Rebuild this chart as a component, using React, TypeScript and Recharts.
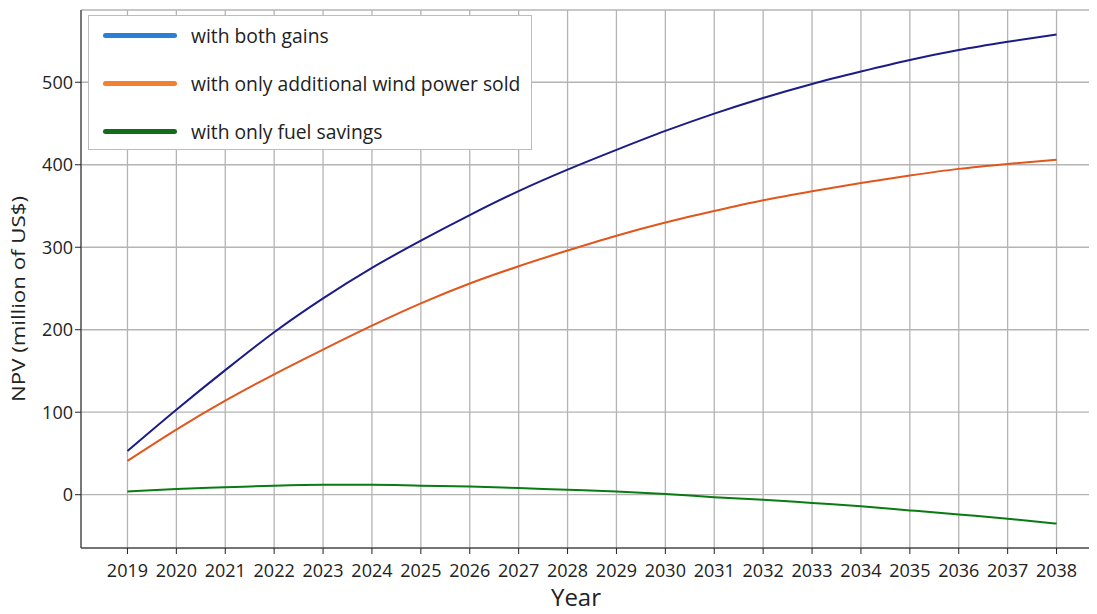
import React from "react";
import {
  LineChart,
  Line,
  XAxis,
  YAxis,
  CartesianGrid,
} from "recharts";

const years = [
  2019, 2020, 2021, 2022, 2023, 2024, 2025, 2026, 2027, 2028,
  2029, 2030, 2031, 2032, 2033, 2034, 2035, 2036, 2037, 2038,
];
const bothGains = [
  53, 103, 151, 197, 238, 275, 308, 339, 368, 394,
  418, 441, 462, 481, 498, 513, 527, 539, 549, 558,
];
const windOnly = [
  41, 79, 114, 146, 176, 205, 232, 256, 277, 296,
  314, 330, 344, 357, 368, 378, 387, 395, 401, 406,
];
const fuelOnly = [
  4, 7, 9, 11, 12, 12, 11, 10, 8, 6,
  4, 1, -3, -6, -10, -14, -19, -24, -29, -35,
];
const yTicks = [0, 100, 200, 300, 400, 500];

const legendItems = [
  { label: "with both gains", color: "#2b7fd6" },
  { label: "with only additional wind power sold", color: "#f2802e" },
  { label: "with only fuel savings", color: "#136b1c" },
];

const data = years.map((year, i) => ({
  year,
  both: bothGains[i],
  wind: windOnly[i],
  fuel: fuelOnly[i],
}));

const font = "'Open Sans', sans-serif";

function YLabel() {
  const x = 18;
  const y = 299;
  return (
    <text
      x={x}
      y={y}
      transform={`rotate(-90 ${x} ${y})`}
      textAnchor="middle"
      dominantBaseline="central"
      fill="#222"
      fontSize={19}
      textLength={206}
      lengthAdjust="spacingAndGlyphs"
      fontFamily={font}
    >
      NPV (million of US$)
    </text>
  );
}

function XLabel() {
  return (
    <text
      x={576}
      y={606}
      textAnchor="middle"
      fill="#222"
      fontSize={24}
      fontFamily={font}
    >
      Year
    </text>
  );
}

export default function App() {
  return (
    <div
      style={{
        margin: -8,
        width: 1097,
        height: 614,
        overflow: "hidden",
        position: "relative",
        background: "#fff",
      }}
    >
      <LineChart
        width={1120}
        height={614}
        data={data}
        margin={{ top: 10, right: 17, bottom: 0, left: 0 }}
      >
        <CartesianGrid stroke="#b4b4b4" strokeWidth={1.3} />
        <XAxis
          dataKey="year"
          type="number"
          domain={[2018.05, 2038.95]}
          ticks={years}
          interval={0}
          height={66}
          stroke="#222"
          tickLine={{ stroke: "#222" }}
          tickSize={6}
          tickMargin={10}
          tick={{ fill: "#222", fontSize: 18, fontFamily: font }}
          label={<XLabel />}
        />
        <XAxis
          xAxisId="top"
          orientation="top"
          dataKey="year"
          type="number"
          domain={[2018.05, 2038.95]}
          height={0}
          tick={false}
          tickLine={false}
          stroke="#222"
        />
        <YAxis
          type="number"
          domain={[-64.6, 587.6]}
          ticks={yTicks}
          width={81}
          stroke="#222"
          tickSize={6}
          tick={{ fill: "#222", fontSize: 18, fontFamily: font }}
          label={<YLabel />}
        />
        <Line
          type="monotone"
          dataKey="both"
          stroke="#1c1c86"
          strokeWidth={2}
          dot={false}
          isAnimationActive={false}
        />
        <Line
          type="monotone"
          dataKey="wind"
          stroke="#e2561c"
          strokeWidth={2}
          dot={false}
          isAnimationActive={false}
        />
        <Line
          type="monotone"
          dataKey="fuel"
          stroke="#0b7a12"
          strokeWidth={2}
          dot={false}
          isAnimationActive={false}
        />
      </LineChart>
      <div
        style={{
          position: "absolute",
          left: 88,
          top: 15,
          width: 444,
          height: 135,
          boxSizing: "border-box",
          border: "1px solid #bcbcbc",
          background: "#fff",
          fontFamily: font,
          fontSize: 19.3,
          color: "#222",
        }}
      >
        {legendItems.map((item, i) => (
          <div
            key={item.label}
            style={{
              position: "absolute",
              left: 14,
              top: 4 + i * 48,
              height: 30,
              display: "flex",
              alignItems: "center",
              whiteSpace: "nowrap",
            }}
          >
            <span
              style={{
                display: "inline-block",
                width: 74,
                height: 5,
                borderRadius: 3,
                background: item.color,
                marginRight: 14,
              }}
            />
            <span>{item.label}</span>
          </div>
        ))}
      </div>
    </div>
  );
}
